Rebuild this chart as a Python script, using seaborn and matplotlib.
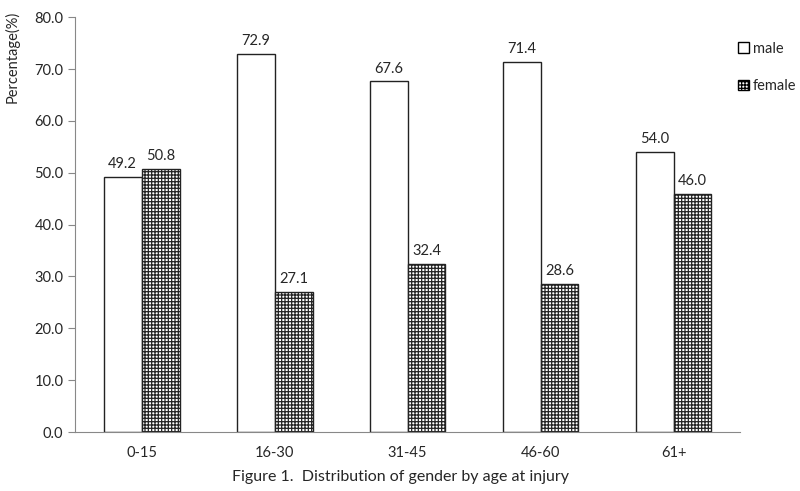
import matplotlib
matplotlib.use("Agg")
import matplotlib.pyplot as plt
import seaborn as sns
import pandas as pd
from matplotlib.patches import Patch

categories = ["0-15", "16-30", "31-45", "46-60", "61+"]
male = [49.2, 72.9, 67.6, 71.4, 54.0]
female = [50.8, 27.1, 32.4, 28.6, 46.0]
series = ["male", "female"]

sns.set_style("white")
plt.rcParams['font.family'] = ['Lato', 'DejaVu Sans']
plt.rcParams['hatch.color'] = '#9a9a9a'
plt.rcParams['hatch.linewidth'] = 0.9

df = pd.DataFrame({
    "age": categories * 2,
    "value": male + female,
    "gender": ["male"] * len(categories) + ["female"] * len(categories),
})

fig = plt.figure(figsize=(8, 4.91), dpi=100)
ax = fig.add_axes([0.094, 0.12, 0.831, 0.845])
sns.barplot(data=df, x="age", y="value", hue="gender", hue_order=series,
            palette=["white", "white"], edgecolor="#222222", linewidth=1.0,
            width=0.57, gap=0, ax=ax, legend=False)

HATCH = "+++++"
for i, cont in enumerate(ax.containers):
    for p in cont:
        if i == 1:
            p.set_hatch(HATCH)
    ax.bar_label(cont, fmt="%.1f", padding=4, fontsize=10.5)

ax.set_ylim(0, 80)
ax.set_yticks(range(0, 81, 10))
ax.set_yticklabels([f"{v:.1f}" for v in range(0, 81, 10)], fontsize=10.5)
ax.set_xlim(-0.5, 4.5)
ax.set_xticks(range(5))
ax.set_xticklabels(categories, fontsize=10.5)
ax.set_xticks([i + 0.5 for i in range(-1, 5)], minor=True)
ax.tick_params(axis='x', which='major', length=0, pad=10)
ax.tick_params(axis='x', which='minor', length=5, color='#888888', direction='out')
ax.tick_params(axis='y', length=5, color='#888888', direction='out', left=True)
ax.set_xlabel("")
ax.set_ylabel("Percentage(%)", fontsize=10.5)
ax.yaxis.set_label_coords(-0.083, 0.905)
for s in ["top", "right"]:
    ax.spines[s].set_visible(False)
for s in ["left", "bottom"]:
    ax.spines[s].set_color("#888888")

handles = [Patch(facecolor="white", edgecolor="black", label="male"),
           Patch(facecolor="white", edgecolor="black", hatch=HATCH, label="female")]
fig.legend(handles=handles, loc="upper left", bbox_to_anchor=(0.922, 0.915),
           frameon=False, fontsize=10.5, labelspacing=1.6, handlelength=0.75,
           handleheight=0.75, handletextpad=0.3, borderpad=0, borderaxespad=0)

fig.text(0.5, 0.02, "Figure 1.  Distribution of gender by age at injury",
         ha="center", fontsize=11.5)

fig.savefig("out.png", dpi=100)
